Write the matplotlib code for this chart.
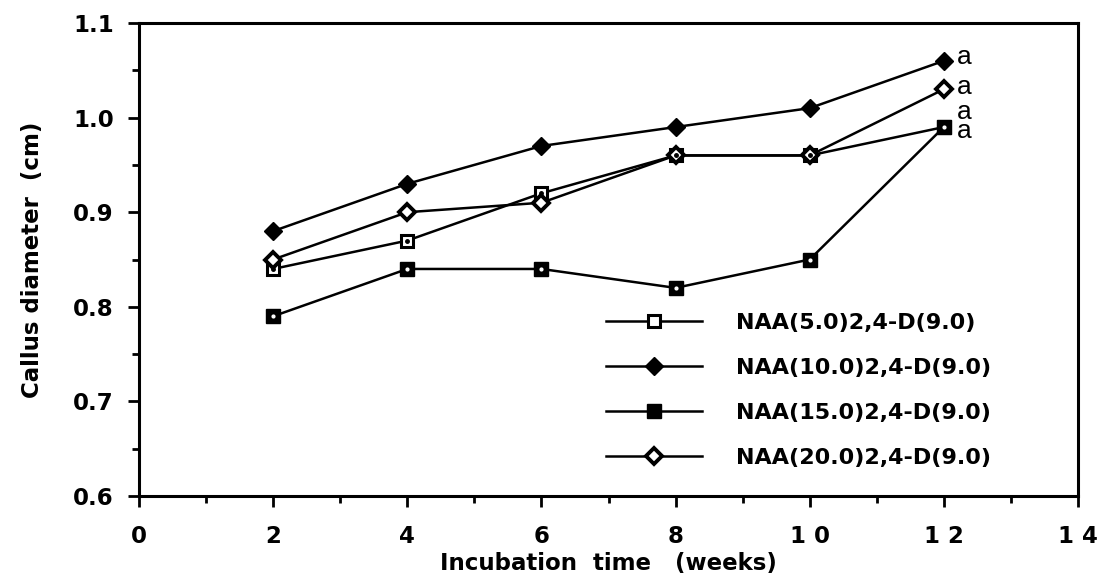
import matplotlib
matplotlib.use("Agg")
import matplotlib.pyplot as plt
from matplotlib.ticker import MultipleLocator

plt.rcParams['font.family'] = ['DejaVu Sans']

# Datos
weeks = [2, 4, 6, 8, 10, 12]
naa5 = [0.84, 0.87, 0.92, 0.96, 0.96, 0.99]
naa10 = [0.88, 0.93, 0.97, 0.99, 1.01, 1.06]
naa15 = [0.79, 0.84, 0.84, 0.82, 0.85, 0.99]
naa20 = [0.85, 0.90, 0.91, 0.96, 0.96, 1.03]
labels = ["NAA(5.0)2,4-D(9.0)", "NAA(10.0)2,4-D(9.0)",
          "NAA(15.0)2,4-D(9.0)", "NAA(20.0)2,4-D(9.0)"]
# letras de significancia al final de cada serie (las dos ultimas van apiladas)
letter_text = ["a", "a", "a\na"]
letter_y = [1.064, 1.032, 0.996]
x_ticks = [0, 2, 4, 6, 8, 10, 12, 14]
x_tick_labels = ["0", "2", "4", "6", "8", "1 0", "1 2", "1 4"]
y_ticks = [0.6, 0.7, 0.8, 0.9, 1.0, 1.1]

fig = plt.figure(figsize=(10.98, 5.79), dpi=100)
ax = fig.add_axes([139 / 1098, 1 - 496 / 579, (1078 - 139) / 1098, (496 - 23) / 579])

lw = 1.8
ax.plot(weeks, naa5, "-", color="black", lw=lw, marker="s", ms=9, mfc="white",
        mec="black", mew=2.2, label=labels[0], zorder=3)
ax.plot(weeks, naa10, "-", color="black", lw=lw, marker="D", ms=9, mfc="black",
        mec="black", label=labels[1], zorder=3)
ax.plot(weeks, naa15, "-", color="black", lw=lw, marker="s", ms=10, mfc="black",
        mec="black", label=labels[2], zorder=3)
ax.plot(weeks, naa20, "-", color="black", lw=lw, marker="D", ms=8.5, mfc="white",
        mec="black", mew=2.8, label=labels[3], zorder=3)
# puntito central de los marcadores
ax.plot(weeks, naa5, ls="none", marker="o", ms=2.5, color="black", zorder=4)
ax.plot(weeks, naa15, ls="none", marker="o", ms=2, color="white", zorder=4)

for txt, yv in zip(letter_text, letter_y):
    ax.text(12.2, yv, txt, fontsize=19, va="center", ha="left",
            family="Liberation Sans", linespacing=0.7)

ax.set_xlim(0, 14)
ax.set_ylim(0.6, 1.1)
ax.set_xticks(x_ticks)
ax.set_xticklabels(x_tick_labels)
ax.set_yticks(y_ticks)
ax.set_yticklabels([f"{v:.1f}" for v in y_ticks])
ax.xaxis.set_minor_locator(MultipleLocator(1))
ax.yaxis.set_minor_locator(MultipleLocator(0.05))
ax.tick_params(which="major", direction="out", length=8, width=2, labelsize=16.5)
ax.tick_params(axis="x", which="major", pad=13)
ax.tick_params(axis="y", which="major", pad=10)
ax.tick_params(which="minor", direction="out", length=5, width=2)
for lab in ax.get_xticklabels() + ax.get_yticklabels():
    lab.set_fontweight("bold")
for sp in ax.spines.values():
    sp.set_linewidth(2.2)

ax.set_xlabel("Incubation  time   (weeks)", fontsize=16.5, fontweight="bold", labelpad=3)
ax.set_ylabel("Callus diameter  (cm)", fontsize=16.5, fontweight="bold", labelpad=21)

leg = ax.legend(loc="upper left", bbox_to_anchor=(0.488, 0.406), frameon=False,
                borderaxespad=0, handlelength=4.32, handletextpad=1.53,
                labelspacing=1.13, prop={"size": 16, "weight": "bold"})

fig.savefig("out.png", dpi=100)
